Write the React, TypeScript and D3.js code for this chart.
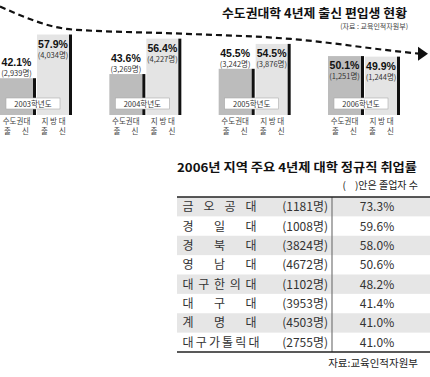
import React from 'react';
import * as d3 from 'd3';

// ---- data: top chart ----
const years = ['2003학년도', '2004학년도', '2005학년도', '2006학년도'];
const metroPct = [42.1, 43.6, 45.5, 50.1];
const metroCnt = [2939, 3269, 3242, 1251];
const localPct = [57.9, 56.4, 54.5, 49.9];
const localCnt = [4034, 4227, 3876, 1244];

// ---- data: table ----
const schools = ['금오공대', '경일대', '경북대', '영남대', '대구한의대', '대구대', '계명대', '대구가톨릭대'];
const grads = [1181, 1008, 3824, 4672, 1102, 3953, 4503, 2755];
const rates = [73.3, 59.6, 58.0, 50.6, 48.2, 41.4, 41.0, 41.0];

const KR = '"Noto Sans CJK KR", "Noto Sans", sans-serif';
const NUM = '"Liberation Sans", "Noto Sans CJK KR", sans-serif';

export default function App() {
  const W = 430, H = 377;
  const base = 115;
  const y = d3.scaleLinear().domain([28.8, 60]).range([base, 28.7]);
  const gx = d3.scaleLinear().domain([0, years.length - 1]).range([0, 328]);
  const fmt = d3.format(',');
  const barW = 33, lineW = 3;

  const tip: [number, number] = [428, y(localPct[3]) - 3];
  const trendPts: [number, number][] = [
    [0, y(localPct[0]) - 28],
    ...localPct.map((v, i) => [gx(i) + 72, y(v) - 5] as [number, number]),
    [tip[0] - 9, tip[1]],
  ];
  const trend = d3.line().curve(d3.curveMonotoneX)(trendPts) || '';

  // table
  const tL = 177, tR = 430, tTop = 197, tBot = 352, divX = 332;
  const row = d3.scaleBand<string>().domain(schools).range([tTop, tBot]);

  const barLabel = (cx: number, v: number, cnt: number, key: string) => {
    const top = y(v);
    const inside = base - top > 50;
    const pY = inside ? top + 13 : top - 12;
    const cY = inside ? top + 23 : top - 2;
    return (
      <g key={key}>
        <text x={cx} y={pY} textAnchor="middle" fontFamily={NUM} fontWeight={700} fontSize={10.5} fill="#111">{v.toFixed(1)}%</text>
        <text x={cx} y={cY} textAnchor="middle" fontFamily={KR} fontSize={7.5} fill="#333">({fmt(cnt)}명)</text>
      </g>
    );
  };

  return (
    <svg width={W} height={H} style={{ position: 'absolute', left: 0, top: 0, background: '#fff' }}>
      {/* title */}
      <text x={407} y={18} textAnchor="end" fontFamily={KR} fontWeight={700} fontSize={12.5} fill="#111" textLength={185} lengthAdjust="spacingAndGlyphs">수도권대학 4년제 출신 편입생 현황</text>
      <text x={408} y={29} textAnchor="end" fontFamily={KR} fontSize={7} fill="#444">(자료 : 교육인적자원부)</text>

      {years.map((yr, i) => {
        const x0 = gx(i);
        const mTop = y(metroPct[i]);
        const lTop = y(localPct[i]);
        const lx = x0 + barW + lineW + 1;
        return (
          <g key={yr}>
            <rect x={x0} y={mTop} width={barW} height={base - mTop} fill="#bcbcbc" />
            <rect x={x0 + barW} y={mTop} width={lineW} height={base - mTop} fill="#111" />
            <rect x={lx} y={lTop} width={barW - 1} height={base - lTop} fill="#e4e4e4" />
            <rect x={lx + barW - 1} y={lTop} width={lineW} height={base - lTop} fill="#111" />
            <rect x={x0 + 6} y={98} width={54} height={11} fill="#fff" stroke="#aaa" strokeWidth={0.6} />
            <text x={x0 + 33} y={106.5} textAnchor="middle" fontFamily={KR} fontSize={7.5} fill="#333">{yr}</text>
            {barLabel(x0 + barW / 2, metroPct[i], metroCnt[i], 'm')}
            {barLabel(lx + (barW - 1) / 2, localPct[i], localCnt[i], 'l')}
            <text x={x0 + barW / 2} y={124} textAnchor="middle" fontFamily={KR} fontSize={7.5} fill="#444">수도권대</text>
            <text x={x0 + barW / 2 - 9} y={134} textAnchor="middle" fontFamily={KR} fontSize={7.5} fill="#444">출</text>
            <text x={x0 + barW / 2 + 9} y={134} textAnchor="middle" fontFamily={KR} fontSize={7.5} fill="#444">신</text>
            <text x={lx + barW / 2} y={124} textAnchor="middle" fontFamily={KR} fontSize={7.5} fill="#444">지 방 대</text>
            <text x={lx + barW / 2 - 9} y={134} textAnchor="middle" fontFamily={KR} fontSize={7.5} fill="#444">출</text>
            <text x={lx + barW / 2 + 9} y={134} textAnchor="middle" fontFamily={KR} fontSize={7.5} fill="#444">신</text>
          </g>
        );
      })}

      {/* trend arrow */}
      <path d={trend} fill="none" stroke="#111" strokeWidth={2.2} strokeDasharray="6 4" />
      <polygon points={`${tip[0] - 10},${tip[1] - 7} ${tip[0]},${tip[1]} ${tip[0] - 10},${tip[1] + 7}`} fill="#111" />

      {/* table title */}
      <text x={417} y={172} textAnchor="end" fontFamily={KR} fontWeight={700} fontSize={12} fill="#111" textLength={240} lengthAdjust="spacingAndGlyphs">2006년 지역 주요 4년제 대학 정규직 취업률</text>
      <text x={418} y={189} textAnchor="end" fontFamily={KR} fontSize={10} fill="#222" style={{ whiteSpace: 'pre' }}>(    )안은 졸업자 수</text>

      {schools.map((s, i) => {
        const ry = row(s)!;
        const rh = row.bandwidth();
        const chars = Array.from(s);
        const cxs = d3.scalePoint<number>().domain(d3.range(chars.length)).range([188, chars.length > 5 ? 254 : 251]);
        const ty = ry + rh / 2 + 4.5;
        return (
          <g key={s}>
            {i % 2 === 0 && <rect x={tL} y={ry} width={tR - tL} height={rh} fill="#e6e6e6" />}
            {chars.map((c, j) => (
              <text key={j} x={cxs(j)} y={ty} textAnchor="middle" fontFamily={KR} fontSize={12} fill="#333">{c}</text>
            ))}
            <text x={328} y={ty} textAnchor="end" fontFamily={KR} fontSize={12} fill="#333">({grads[i]}명)</text>
            <text x={377} y={ty} textAnchor="middle" fontFamily={KR} fontSize={12} fill="#333">{rates[i].toFixed(1)}%</text>
          </g>
        );
      })}
      <line x1={divX} x2={divX} y1={tTop} y2={tBot} stroke="#777" strokeWidth={1.2} />
      <line x1={tL} x2={tR} y1={tTop} y2={tTop} stroke="#222" strokeWidth={1.5} />
      <line x1={tL} x2={tR} y1={tBot} y2={tBot} stroke="#222" strokeWidth={1.5} />
      <text x={418} y={367} textAnchor="end" fontFamily={KR} fontSize={10.5} fill="#222">자료:교육인적자원부</text>
    </svg>
  );
}
